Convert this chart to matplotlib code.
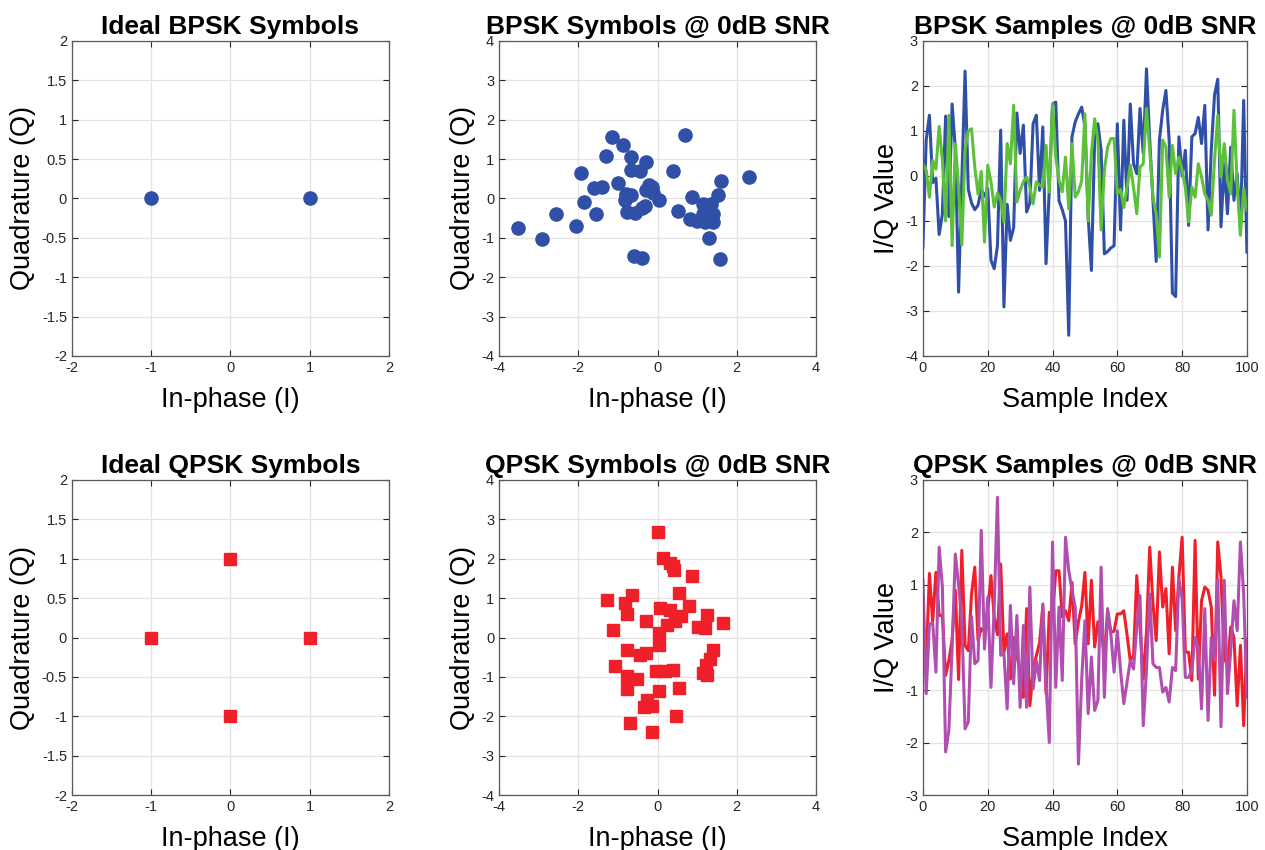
import matplotlib
matplotlib.use('Agg')
import matplotlib.pyplot as plt
import numpy as np

plt.rcParams['font.family'] = ['Liberation Sans', 'DejaVu Sans']
plt.rcParams['axes.unicode_minus'] = False

# ideal constellations
bpsk_ideal_i = [-1, 1]
bpsk_ideal_q = [0, 0]
qpsk_ideal_i = [1, 0, -1, 0]
qpsk_ideal_q = [0, 1, 0, -1]

# noisy symbols at 0 dB SNR
bpsk_noisy_i = [-3.53, -2.91, -2.57, -2.05, -1.94, -1.85, -1.60, -1.39, -1.56, -1.31,
                -1.14, -0.88, -1.01, -0.80, -0.67, -0.83, -0.76, -0.57, -0.66, -0.66,
                -0.45, -0.28, -0.21, -0.30, -0.11, 0.04, -0.32, -0.60, -0.38, 0.38,
                0.70, 0.51, 0.86, 0.82, 0.99, 1.14, 1.20, 1.36, 1.39, 1.41,
                1.28, 1.31, 1.52, 1.61, 1.57, 2.32, 1.15, -0.13, -0.40]
bpsk_noisy_q = [-0.75, -1.03, -0.39, -0.69, 0.65, -0.09, 0.26, 0.29, -0.39, 1.09,
                1.56, 1.36, 0.39, 0.12, 0.08, -0.05, -0.35, -0.36, 1.05, 0.73,
                0.69, 0.92, 0.33, 0.22, 0.14, -0.03, -0.20, -1.47, -1.52, 0.70,
                1.60, -0.32, 0.05, -0.52, -0.56, -0.15, -0.60, -0.15, -0.39, -0.60,
                -0.31, -1.00, 0.08, 0.45, -1.53, 0.54, -0.39, 0.29, -0.25]

qpsk_noisy_i = [0.02, 0.14, 0.31, 0.38, 0.41, 0.87, 0.53, -1.27, -0.64, -0.82,
                -0.78, -0.28, -1.12, 0.06, 0.31, 0.79, 0.58, 0.44, 0.23, 0.04,
                1.25, 1.03, 1.21, 1.66, 0.04, -0.78, -0.45, -0.28, -1.07, -0.77,
                -0.51, -0.03, 0.19, 0.38, 1.39, 1.32, 1.22, 1.15, 1.26, -0.76,
                0.04, 0.55, -0.26, -0.35, -0.13, 0.46, -0.70, -0.13]
qpsk_noisy_q = [2.67, 2.03, 1.89, 1.81, 1.71, 1.57, 1.14, 0.96, 1.09, 0.87,
                0.59, 0.41, 0.20, 0.75, 0.70, 0.79, 0.54, 0.43, 0.31, 0.12,
                0.58, 0.26, 0.25, 0.37, -0.20, -0.33, -0.44, -0.40, -0.72, -0.99,
                -1.05, -0.86, -0.84, -0.83, -0.33, -0.54, -0.71, -0.91, -0.95, -1.32,
                -1.35, -1.29, -1.59, -1.76, -1.73, -2.00, -2.18, -2.41]

# time samples, 0..100
bpsk_samp_i = [-1.58, 0.8, 1.35, -0.15, -0.05, -1.3, -0.85, 1.33, -0.9, 1.6,
               0.6, -2.58, -0.1, 2.33, -0.3, -0.6, -0.75, -0.65, -0.3, -0.45,
               -0.28, -1.87, -2.06, -1.55, 1.02, -2.91, -0.63, -1.43, -1.15, 1.4,
               0.5, 1.13, -0.8, -0.6, 1.16, 1.35, -0.32, 1.09, -1.95, -0.3,
               1.6, 1.64, -0.55, -0.75, -1.0, -3.54, 0.87, 1.2, 1.38, 1.53,
               1.1, -0.9, -2.1, 0.8, 1.16, 0.57, -1.73, -1.68, -1.6, -1.55,
               1.16, -1.2, 1.24, -0.54, 1.6, 0.27, 0.05, 1.5, 0.5, 2.38,
               0.8, -0.54, -1.9, 0.8, 1.46, 1.9, 0.8, -2.6, -2.68, 0.87,
               0.0, 0.57, -1.1, 0.87, 0.94, 1.3, 0.72, 1.57, -1.2, 0.57,
               1.8, 2.15, -1.13, 0.27, -0.84, 0.64, -0.54, 0.05, -1.2, 1.68,
               -1.69]
bpsk_samp_q = [0.27, 0.13, -0.47, 0.35, 0.15, 1.1, 0.35, -1.0, 1.35, -1.55,
               0.72, -0.25, -1.53, 0.57, 1.0, 1.05, 0.2, -0.4, 0.1, -1.47,
               0.24, -0.13, -0.69, -0.38, -0.54, -1.02, 0.72, 0.27, 1.57, -0.58,
               -0.32, -0.13, -0.02, -0.25, -0.62, -0.13, -0.2, -0.25, 0.68, -0.36,
               1.6, 0.42, -0.1, -0.35, 0.42, -0.73, 0.72, -0.47, -0.35, -0.1,
               1.38, -1.0, 0.5, 1.27, 0.8, -1.2, 0.13, 0.64, 0.83, 0.83,
               -0.4, -0.3, -0.7, -0.25, 0.24, -0.25, -0.84, 0.2, 0.27, 1.5,
               0.57, -0.47, -0.84, -1.8, 0.8, 0.64, -0.47, 0.68, 0.05, 0.42,
               0.13, -0.25, -1.02, -0.25, -0.47, 0.27, -0.02, -0.4, -0.54, -0.87,
               0.35, 1.35, -0.02, 0.72, -0.1, -0.4, 1.46, -0.2, -1.32, -0.28,
               -0.76]

qpsk_samp_i = [-0.63, -0.5, 1.22, 0.3, 1.24, 0.42, 0.42, -0.72, -0.44, -0.05,
               0.9, -0.8, 1.66, -0.15, -0.25, 0.83, 1.34, -0.05, 0.17, 0.12,
               0.5, 1.18, 0.39, 0.05, 1.4, -0.28, 0.07, -0.79, 0.0, -0.35,
               -0.63, -1.14, 0.55, -1.3, -0.63, -0.35, -0.1, 0.6, -1.07, 0.48,
               0.39, 1.27, 1.27, 0.39, 0.51, 0.32, 1.05, -0.12, 0.3, 0.6,
               1.24, -0.12, 1.09, -0.18, 0.3, 0.15, -0.37, 0.51, 0.1, 0.12,
               0.45, 0.45, 0.51, 0.05, -0.44, -0.35, 1.18, 0.2, -0.79, 0.1,
               1.72, 0.64, -0.06, 1.63, 0.58, 0.93, -0.31, 1.34, 0.13, 1.15,
               1.91, -0.28, -0.28, -0.82, 1.85, -0.79, 0.7, 0.96, 0.9, 0.58,
               -1.1, 1.82, 1.15, -0.37, -0.56, 0.2, 0.0, -1.3, -0.15, -1.68,
               -0.03]
qpsk_samp_q = [1.09, -1.07, 0.25, 0.29, -0.66, 1.72, 0.96, -2.18, -1.77, -0.2,
               1.59, 1.0, 0.3, -1.74, -1.61, 0.4, -0.5, -0.44, 2.04, -0.22,
               0.77, -0.95, 0.6, 2.67, -0.34, -0.3, -1.36, 0.61, -0.88, 0.42,
               -1.33, 0.23, -1.33, 0.96, -0.98, -0.44, -0.82, 0.64, -0.9, -2.0,
               1.82, -0.95, 0.58, -0.82, 1.91, 1.28, 0.9, 0.58, -2.41, -0.8,
               0.32, -1.45, -0.37, -1.39, -1.2, 1.34, -1.14, 0.55, 0.07, -0.66,
               0.13, -0.63, -1.26, -0.85, -0.44, -0.6, 0.2, 0.8, -1.68, -0.63,
               0.83, -0.5, -0.57, -0.57, -1.04, -0.95, -1.23, -0.57, -0.63, 1.12,
               0.74, -0.76, -0.76, -0.63, 0.0, -0.2, -1.36, 0.55, -1.58, 0.0,
               -0.44, 1.1, -1.7, 1.09, -1.07, -0.25, 0.7, 0.13, 1.82, 0.83,
               -1.14]

blue = '#3050A8'
green = '#5DC03A'
red = '#F0202A'
purple = '#B04FB0'


def style(ax, title, xlabel, ylabel):
    ax.set_title(title, fontsize=19, fontweight='bold', pad=5)
    ax.set_xlabel(xlabel, fontsize=19.5, labelpad=9)
    ax.set_ylabel(ylabel, fontsize=19.5, labelpad=4)
    ax.grid(True, color='#E3E3E3', linewidth=0.9)
    ax.set_axisbelow(True)
    ax.tick_params(direction='in', top=True, right=True, labelsize=10.5,
                   colors='#262626', length=4, width=0.8)
    for s in ax.spines.values():
        s.set_color('#5A5A5A')
        s.set_linewidth(0.9)


fig = plt.figure(figsize=(12.65, 8.5), dpi=100)
lefts = [0.0569, 0.3945, 0.7296]
widths = [0.2506, 0.2506, 0.2561]
bottoms = [0.5812, 0.0647]
h = 0.3706
axs = [[fig.add_axes([lefts[c], bottoms[r], widths[c], h]) for c in range(3)] for r in range(2)]

n = np.arange(len(bpsk_samp_i))

# row 1: BPSK
ax = axs[0][0]
ax.plot(bpsk_ideal_i, bpsk_ideal_q, 'o', color=blue, markersize=9.5, linestyle='none')
ax.set_xlim(-2, 2)
ax.set_ylim(-2, 2)
ax.set_xticks(np.arange(-2, 2.01, 1))
ax.set_yticks(np.arange(-2, 2.01, 0.5))
ax.set_yticklabels(['-2', '-1.5', '-1', '-0.5', '0', '0.5', '1', '1.5', '2'])
style(ax, 'Ideal BPSK Symbols', 'In-phase (I)', 'Quadrature (Q)')

ax = axs[0][1]
ax.plot(bpsk_noisy_i, bpsk_noisy_q, 'o', color=blue, markersize=9.5, linestyle='none')
ax.set_xlim(-4, 4)
ax.set_ylim(-4, 4)
ax.set_xticks(np.arange(-4, 4.01, 2))
ax.set_yticks(np.arange(-4, 4.01, 1))
style(ax, 'BPSK Symbols @ 0dB SNR', 'In-phase (I)', 'Quadrature (Q)')

ax = axs[0][2]
ax.plot(n, bpsk_samp_i, color=blue, linewidth=2.2)
ax.plot(n, bpsk_samp_q, color=green, linewidth=2.2)
ax.set_xlim(0, 100)
ax.set_ylim(-4, 3)
ax.set_xticks(np.arange(0, 101, 20))
ax.set_yticks(np.arange(-4, 3.01, 1))
style(ax, 'BPSK Samples @ 0dB SNR', 'Sample Index', 'I/Q Value')

# row 2: QPSK
ax = axs[1][0]
ax.plot(qpsk_ideal_i, qpsk_ideal_q, 's', color=red, markersize=8, linestyle='none')
ax.set_xlim(-2, 2)
ax.set_ylim(-2, 2)
ax.set_xticks(np.arange(-2, 2.01, 1))
ax.set_yticks(np.arange(-2, 2.01, 0.5))
ax.set_yticklabels(['-2', '-1.5', '-1', '-0.5', '0', '0.5', '1', '1.5', '2'])
style(ax, 'Ideal QPSK Symbols', 'In-phase (I)', 'Quadrature (Q)')

ax = axs[1][1]
ax.plot(qpsk_noisy_i, qpsk_noisy_q, 's', color=red, markersize=8, linestyle='none')
ax.set_xlim(-4, 4)
ax.set_ylim(-4, 4)
ax.set_xticks(np.arange(-4, 4.01, 2))
ax.set_yticks(np.arange(-4, 4.01, 1))
style(ax, 'QPSK Symbols @ 0dB SNR', 'In-phase (I)', 'Quadrature (Q)')

ax = axs[1][2]
ax.plot(n, qpsk_samp_i, color=red, linewidth=2.2)
ax.plot(n, qpsk_samp_q, color=purple, linewidth=2.2)
ax.set_xlim(0, 100)
ax.set_ylim(-3, 3)
ax.set_xticks(np.arange(0, 101, 20))
ax.set_yticks(np.arange(-3, 3.01, 1))
style(ax, 'QPSK Samples @ 0dB SNR', 'Sample Index', 'I/Q Value')

fig.savefig('out.png', dpi=100)
